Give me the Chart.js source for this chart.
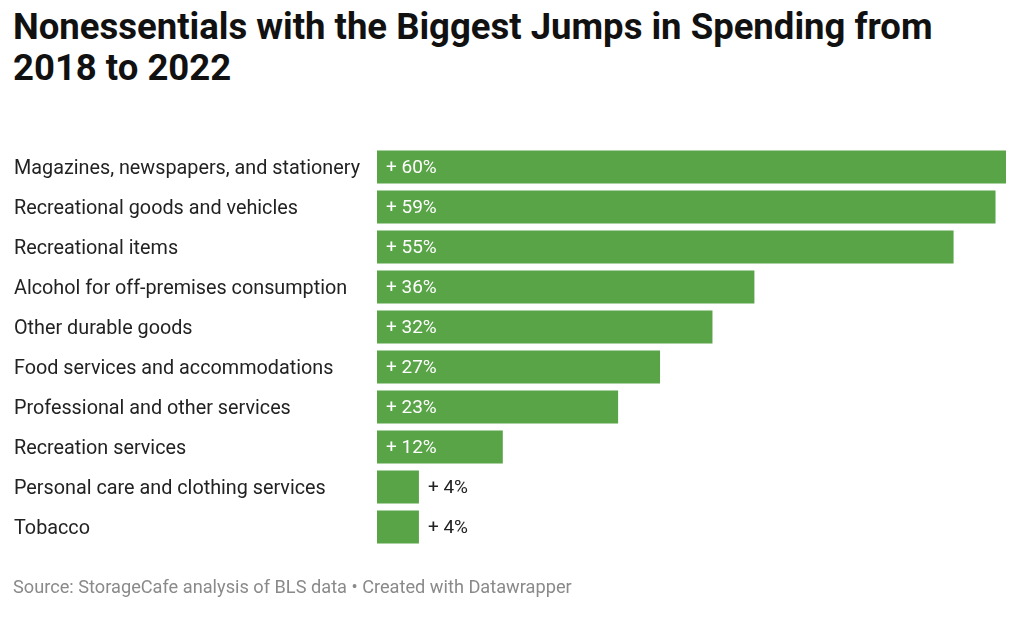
<!DOCTYPE html>
<html>
<head>
<meta charset="utf-8">
<script src="https://cdn.jsdelivr.net/npm/chart.js@4"></script>
<style>
  html, body { margin: 0; padding: 0; background: #fff; }
  body { width: 1024px; height: 624px; position: relative; overflow: hidden; font-family: Roboto, sans-serif; }
  #title { position: absolute; left: 13px; top: 6px; font-size: 36.5px; font-weight: bold; line-height: 41px; color: #111; }
  #source { position: absolute; left: 13px; top: 576px; font-size: 18.2px; color: #8a8a8a; }
  #wrap { position: absolute; left: 0; top: 0; width: 1024px; height: 624px; }
</style>
</head>
<body>
<div id="title">Nonessentials with the Biggest Jumps in Spending from<br>2018 to 2022</div>
<div id="wrap"><canvas id="c" width="1024" height="624"></canvas></div>
<div id="source">Source: StorageCafe analysis of BLS data • Created with Datawrapper</div>
<script>
const categories = [
  "Magazines, newspapers, and stationery",
  "Recreational goods and vehicles",
  "Recreational items",
  "Alcohol for off-premises consumption",
  "Other durable goods",
  "Food services and accommodations",
  "Professional and other services",
  "Recreation services",
  "Personal care and clothing services",
  "Tobacco"
];
const values = [60, 59, 55, 36, 32, 27, 23, 12, 4, 4];

const valueLabels = {
  id: 'valueLabels',
  afterDatasetsDraw(chart) {
    const ctx = chart.ctx;
    const meta = chart.getDatasetMeta(0);
    ctx.save();
    ctx.font = '19px Roboto, sans-serif';
    ctx.textBaseline = 'middle';
    ctx.textAlign = 'left';
    meta.data.forEach((bar, i) => {
      const v = values[i];
      const txt = '+ ' + v + '%';
      if (v >= 10) {
        ctx.fillStyle = '#ffffff';
        ctx.fillText(txt, bar.base + 9, bar.y + 1);
      } else {
        ctx.fillStyle = '#222222';
        ctx.fillText(txt, bar.x + 9, bar.y + 1);
      }
    });
    ctx.restore();
  }
};

new Chart(document.getElementById('c'), {
  type: 'bar',
  data: {
    labels: categories,
    datasets: [{
      data: values,
      backgroundColor: '#58a446',
      barPercentage: 0.82,
      categoryPercentage: 1.0
    }]
  },
  options: {
    indexAxis: 'y',
    responsive: false,
    animation: false,
    layout: { padding: { left: 14, top: 147, bottom: 77, right: 18 } },
    plugins: { legend: { display: false }, tooltip: { enabled: false } },
    scales: {
      x: { display: false, min: 0, max: 60 },
      y: {
        grid: { display: false },
        border: { display: false },
        afterFit(scale) { scale.width = 363; },
        ticks: {
          crossAlign: 'far',
          color: '#222',
          font: { family: 'Roboto, sans-serif', size: 19.8 },
          padding: 0,
          labelOffset: 2
        }
      }
    }
  },
  plugins: [valueLabels]
});
</script>
</body>
</html>
